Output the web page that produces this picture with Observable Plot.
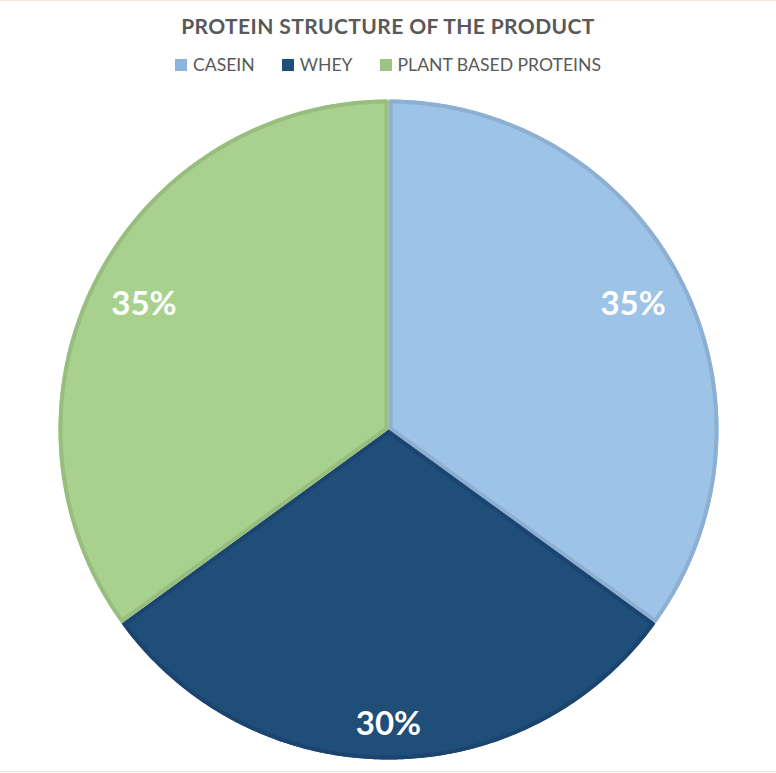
<!DOCTYPE html>
<html>
<head>
<meta charset="utf-8">
<script src="https://cdn.jsdelivr.net/npm/d3@7"></script>
<script src="https://cdn.jsdelivr.net/npm/@observablehq/plot@0.6"></script>
<style>
  html, body { margin: 0; padding: 0; background: #fff; }
  #wrap { position: relative; width: 776px; height: 773px; overflow: hidden; font-family: Lato, "Open Sans", sans-serif; }
  #frame { position: absolute; left: -2px; top: 0; width: 780px; height: 770px; border-top: 1px solid #FBE3D5; border-bottom: 1px solid #FBE3D5; box-sizing: content-box; }
  #title { position: absolute; top: 13px; left: 0; width: 776px; text-align: center; font-weight: bold; font-size: 21px; color: #595959; letter-spacing: 0.4px; }
  #legend { position: absolute; top: 54px; left: 0; width: 776px; display: flex; justify-content: center; gap: 27px; font-size: 17.6px; color: #595959; }
  .item { display: flex; align-items: center; }
  .sw { width: 12px; height: 12px; margin-right: 6px; display: inline-block; }
  #chart { position: absolute; left: 0; top: 0; }
</style>
</head>
<body>
<div id="wrap">
  <div id="chart"></div>
  <div id="frame"></div>
  <div id="title"></div>
  <div id="legend"></div>
</div>
<script>
const title = "PROTEIN STRUCTURE OF THE PRODUCT";
const categories = ["CASEIN", "WHEY", "PLANT BASED PROTEINS"];
const values = [35, 30, 35];
const labels = ["35%", "30%", "35%"];
const fillColors = ["#9DC3E6", "#1F4E79", "#A9D18E"];
const edgeColors = ["#8DAFD2", "#1B4570", "#97BD7F"];
const legendColors = ["#8FB4DB", "#1F4E79", "#9CC584"];

document.getElementById("title").textContent = title;
const legend = document.getElementById("legend");
categories.forEach((c, i) => {
  const it = document.createElement("div");
  it.className = "item";
  const sw = document.createElement("span");
  sw.className = "sw";
  sw.style.background = legendColors[i];
  it.appendChild(sw);
  it.appendChild(document.createTextNode(c));
  legend.appendChild(it);
});

const W = 776, H = 773;
const mL = 58, mR = 58, mT = 99, mB = 14;
const Rpx = (W - mL - mR) / 2;

const total = d3.sum(values);
let acc = 0;
const slices = categories.map((c, i) => {
  const a0 = acc / total * 2 * Math.PI;
  acc += values[i];
  const a1 = acc / total * 2 * Math.PI;
  return {c, i, a0, a1, label: labels[i]};
});

function wedge(s, inset) {
  const theta = s.a1 - s.a0;
  const mid = (s.a0 + s.a1) / 2;
  const cr = inset > 0 ? inset / Math.sin(theta / 2) : 0;
  const R = 1 - inset;
  const da = inset > 0 ? Math.asin(inset / R) : 0;
  const pts = [{c: s.c, x: cr * Math.sin(mid), y: cr * Math.cos(mid)}];
  const n = 180;
  for (let k = 0; k <= n; k++) {
    const a = s.a0 + da + (theta - 2 * da) * k / n;
    pts.push({c: s.c, x: R * Math.sin(a), y: R * Math.cos(a)});
  }
  pts.push(pts[0]);
  return pts;
}

const sw = 4 / Rpx;
const marks = [];
slices.forEach((s) => {
  marks.push(Plot.line(wedge(s, 0), {x: "x", y: "y", fill: fillColors[s.i], stroke: "none", curve: "linear"}));
  marks.push(Plot.line(wedge(s, sw / 2), {x: "x", y: "y", fill: "none", stroke: edgeColors[s.i], strokeWidth: 4, strokeLinejoin: "miter", curve: "linear"}));
});

// label placement: inside end
const hw = 32 / Rpx, hh = 11 / Rpx, T = (Rpx - 22) / Rpx;
const labelPts = slices.map(s => {
  const mid = (s.a0 + s.a1) / 2;
  const sx = Math.sin(mid), cy = Math.cos(mid);
  const hx = (Math.abs(sx) < 1e-9 ? 1 : Math.sign(sx)) * hw;
  const hy = (Math.abs(cy) < 1e-9 ? 1 : Math.sign(cy)) * hh;
  const b = sx * hx + cy * hy;
  const r = -b + Math.sqrt(b * b - (hx * hx + hy * hy - T * T));
  return {label: s.label, x: r * sx, y: r * cy};
});
marks.push(Plot.text(labelPts, {x: "x", y: "y", text: "label", fill: "white", fontSize: 33, fontWeight: "bold", fontFamily: "Lato, 'Open Sans', sans-serif", textAnchor: "middle"}));

const plot = Plot.plot({
  width: W,
  height: H,
  marginLeft: mL, marginRight: mR, marginTop: mT, marginBottom: mB,
  x: {domain: [-1, 1], axis: null},
  y: {domain: [-1, 1], axis: null},
  style: {background: "transparent", overflow: "visible"},
  marks
});
document.getElementById("chart").appendChild(plot);
</script>
</body>
</html>
